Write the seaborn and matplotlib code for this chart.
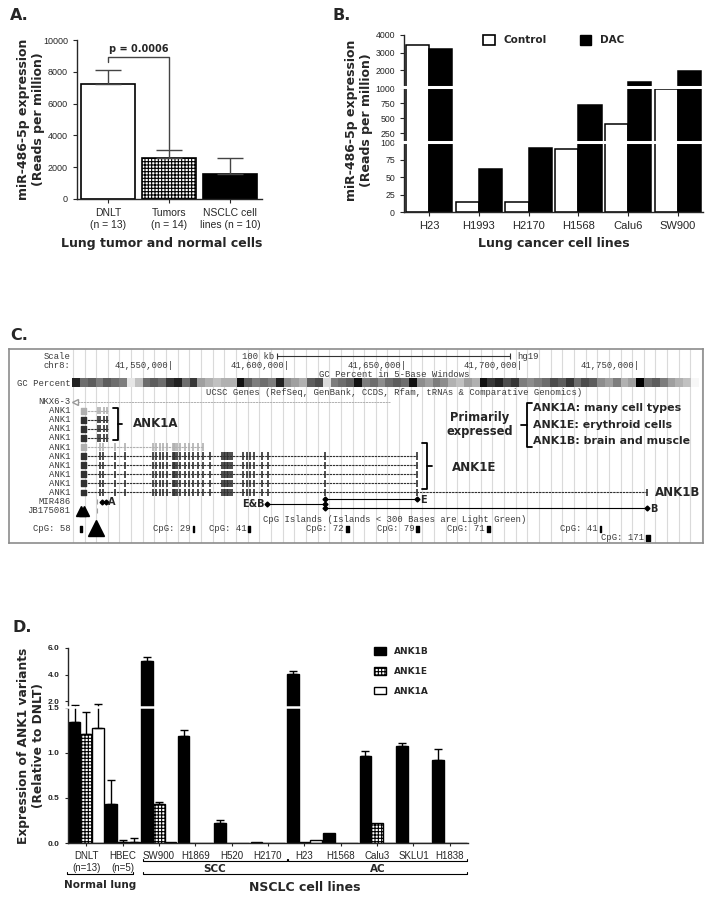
import numpy as np
import pandas as pd
import matplotlib
matplotlib.use("Agg")
import matplotlib.pyplot as plt
from matplotlib.patches import Patch
import seaborn as sns

# ---------------- panel A data
a_groups = ["DNLT\n(n = 13)", "Tumors\n(n = 14)", "NSCLC cell\nlines (n = 10)"]
a_mean = [7250, 2600, 1600]
a_upper = [8100, 3100, 2550]
a_pval = "p = 0.0006"

# ---------------- panel B data
b_lines = ["H23", "H1993", "H2170", "H1568", "Calu6", "SW900"]
b_control = [3430, 14, 15, 90, 400, 990]
b_dac = [3200, 62, 92, 720, 1340, 1950]
b_ticks = [0, 25, 50, 75, 100, 250, 500, 750, 1000, 2000, 3000, 4000]

# ---------------- panel C data (positions in kb on chr8, hg19)
chr_ticks = [41550, 41600, 41650, 41700, 41750]
gc_left = [0.75, 0.55, 0.6, 0.5, 0.6, 0.55, 0.5, 0.15, 0.3, 0.55, 0.6, 0.55, 0.7, 0.75,
           0.55, 0.7, 0.4, 0.35, 0.3, 0.35, 0.35, 0.8, 0.6, 0.5, 0.55, 0.5, 0.75, 0.45,
           0.4, 0.35, 0.6, 0.65, 0.2, 0.5, 0.55, 0.6, 0.8, 0.5, 0.55, 0.45]
gc_right = [0.55, 0.6, 0.55, 0.8, 0.45, 0.4, 0.5, 0.45, 0.35, 0.3, 0.4, 0.35, 0.8, 0.7,
            0.75, 0.65, 0.7, 0.5, 0.45, 0.5, 0.55, 0.65, 0.6, 0.7, 0.55, 0.65, 0.6, 0.45,
            0.4, 0.5, 0.35, 0.4, 0.9, 0.55, 0.6, 0.5, 0.4, 0.35, 0.3, 0.05]
ank1_start = 41511.0
ank1a_end = 41522.6
ank1a_exons = [41518.3, 41519.2, 41520.9, 41522.2]
ank1e_exons = [41519.2, 41520.4, 41525.6, 41529.9, 41541.9, 41543.2, 41544.9, 41546.2,
               41548.0, 41550.5, 41551.0, 41551.4, 41552.2, 41553.5, 41555.6, 41557.4,
               41559.1, 41561.2, 41563.4, 41566.4, 41571.5, 41572.3, 41572.8, 41573.6,
               41574.1, 41575.0, 41575.8, 41580.5, 41582.2, 41583.5, 41585.3, 41588.7,
               41591.3, 41615.7, 41655.2]
ank1_partial_end = 41563.4
ank1e_end = 41655.2
ank1b_end = 41753.9
nkx_span = [41508.4, 41643.6]
mir486_pos = 41517.9
jb_peaks = [41510.8, 41512.2]
cpg_pos = [41511.0, 41559.1, 41583.1, 41625.2, 41655.5, 41685.8, 41733.8, 41754.2]
cpg_count = [58, 29, 41, 72, 79, 71, 41, 171]
cpg_width = [0.8, 0.5, 0.5, 1.2, 1.2, 1.2, 0.4, 1.6]
cpg_row = [19, 19, 19, 19, 19, 19, 19, 20]
promoter_a = [41520.0, 41521.7]
promoter_eb = 41590.8
branch_pos = 41615.7

# ---------------- panel D data
d_lines = ["DNLT\n(n=13)", "HBEC\n(n=5)", "SW900", "H1869", "H520", "H2170",
           "H23", "H1568", "Calu3", "SKLU1", "H1838"]
d_variants = ["ANK1B", "ANK1E", "ANK1A"]
d_ank1b = [1.34, 0.43, 5.03, 1.19, 0.22, 0.01, 4.08, 0.11, 0.97, 1.08, 0.92]
d_ank1b_up = [1.75, 0.70, 5.36, 1.26, 0.25, 0.0, 4.25, 0.0, 1.02, 1.11, 1.04]
d_ank1e = [1.21, 0.01, 0.43, 0.0, 0.005, 0.0, 0.01, 0.0, 0.22, 0.0, 0.005]
d_ank1e_up = [1.45, 0.03, 0.46, 0.0, 0.0, 0.0, 0.0, 0.0, 0.0, 0.0, 0.0]
d_ank1a = [1.28, 0.01, 0.01, 0.0, 0.0, 0.0, 0.03, 0.0, 0.0, 0.0, 0.0]
d_ank1a_up = [1.78, 0.05, 0.0, 0.0, 0.0, 0.0, 0.0, 0.0, 0.0, 0.0, 0.0]
d_ticks = [0.0, 0.5, 1.0, 1.5, 2.0, 4.0, 6.0]

sns.set_style("ticks")
plt.rcParams["font.family"] = ["Liberation Sans Narrow", "Liberation Sans", "DejaVu Sans"]
plt.rcParams["hatch.linewidth"] = 0.8
plt.rcParams["axes.linewidth"] = 1.0
plt.rcParams["xtick.major.size"] = 3
plt.rcParams["ytick.major.size"] = 3

BOLD = dict(family="DejaVu Sans", weight="bold")
MONO = dict(family="Liberation Mono", size=6.4, color="#3a3a3a")
CHECK = "+++++"

W, H = 714, 901
fig = plt.figure(figsize=(W / 100, H / 100), dpi=100)


def rect(l, t, r, b):
    return [l / W, 1 - b / H, (r - l) / W, (b - t) / H]


def upper_err(ax, bars, mean, upper, color, cap):
    xs = np.array([p.get_x() + p.get_width() / 2 for p in bars])
    mean = np.array(mean, float)
    upper = np.array(upper, float)
    keep = upper > mean
    ax.errorbar(xs[keep], mean[keep], yerr=[np.zeros(keep.sum()), (upper - mean)[keep]],
                fmt="none", ecolor=color, elinewidth=1, capsize=cap, capthick=1)
    return xs


# ======================= A
ax_a = fig.add_axes(rect(77, 40, 262, 199))
df_a = pd.DataFrame({"group": a_groups, "value": a_mean})
sns.barplot(data=df_a, x="group", y="value", ax=ax_a, width=0.88, color="white",
            edgecolor="black", linewidth=1.2, errorbar=None, saturation=1)
bars_a = list(ax_a.patches)
bars_a[1].set_hatch(CHECK)
bars_a[2].set_facecolor("black")
xa = upper_err(ax_a, bars_a, a_mean, a_upper, "#444444", 9.5)
ax_a.plot([xa[0], xa[0], xa[1], xa[1]], [8640, 8930, 8930, a_upper[1] + 30],
          color="#444444", lw=1)
ax_a.text((xa[0] + xa[1]) / 2, 9150, a_pval, ha="center", va="bottom", fontsize=7, **BOLD)
ax_a.set_ylim(0, 10000)
ax_a.set_xlim(-0.51, 2.52)
ax_a.set_yticks(range(0, 10001, 2000))
ax_a.tick_params(axis="y", labelsize=6.5)
ax_a.tick_params(axis="x", labelsize=7.5)
ax_a.set_xlabel("Lung tumor and normal cells", fontsize=9, **BOLD)
ax_a.xaxis.set_label_coords(0.46, -0.24)
ax_a.set_ylabel("miR-486-5p expression\n(Reads per million)", fontsize=9, **BOLD)
ax_a.yaxis.set_label_coords(-0.175, 0.5)
sns.despine(ax=ax_a)

# ======================= B
def b_fwd(y):
    y = np.asarray(y, float)
    return np.where(y <= 100, y * 0.7,
                    np.where(y <= 1000, 70 + (y - 100) * 0.06, 124 + (y - 1000) * 0.017667))


def b_inv(u):
    u = np.asarray(u, float)
    return np.where(u <= 70, u / 0.7,
                    np.where(u <= 124, 100 + (u - 70) / 0.06, 1000 + (u - 124) / 0.017667))


ax_b = fig.add_axes(rect(404, 35, 703, 212))
df_b = pd.DataFrame({"line": b_lines * 2,
                     "cond": ["Control"] * 6 + ["DAC"] * 6,
                     "value": b_control + b_dac})
sns.barplot(data=df_b, x="line", y="value", hue="cond", ax=ax_b, width=0.93, gap=0,
            palette={"Control": "white", "DAC": "black"}, edgecolor="black",
            linewidth=1.1, errorbar=None, saturation=1, legend=False)
ax_b.set_yscale("function", functions=(b_fwd, b_inv))
ax_b.set_ylim(0, 4000)
ax_b.set_xlim(-0.5, 5.5)
ax_b.set_yticks(b_ticks)
ax_b.set_yticklabels([str(t) for t in b_ticks])
ax_b.yaxis.set_minor_locator(matplotlib.ticker.NullLocator())
for v in (103, 1040):
    ax_b.plot([-0.03, 1.0], [v, v], transform=ax_b.get_yaxis_transform(), color="white",
              lw=2.2, clip_on=False, zorder=6)
ax_b.tick_params(axis="y", labelsize=6.3)
ax_b.tick_params(axis="x", labelsize=8)
ax_b.set_xlabel("Lung cancer cell lines", fontsize=9, **BOLD)
ax_b.xaxis.set_label_coords(0.5, -0.14)
ax_b.set_ylabel("miR-486-5p expression\n(Reads per million)", fontsize=9, **BOLD)
ax_b.yaxis.set_label_coords(-0.104, 0.52)
sns.despine(ax=ax_b)
ax_b.legend(handles=[Patch(facecolor="white", edgecolor="black", lw=1.2),
                     Patch(facecolor="black", edgecolor="black")],
            labels=["Control", "DAC"], ncol=2, loc="center left",
            bbox_to_anchor=(474 / W, 1 - 40 / H), bbox_transform=fig.transFigure,
            frameon=False, columnspacing=3.2, handlelength=1.1, handleheight=1.2,
            handletextpad=0.8, prop=dict(size=7.5, **BOLD))

# ======================= C
ax_c = fig.add_axes(rect(9, 349, 703, 543))
x0, x1, y0, y1 = 41480.1, 41777.9, 20.55, -0.77
label_x = 41506.4
ax_c.vlines(np.arange(41507.5, 41778, 5.0), y1, y0, color="#dadada", lw=0.8, zorder=0)
gc = np.array([gc_left + gc_right])
ax_c.imshow(gc, extent=(41507.1, 41775.8, 3.45, 2.55), cmap="Greys", vmin=0, vmax=0.85,
            aspect="auto", interpolation="nearest", zorder=1)

track_labels = ["Scale", "chr8:", "", "GC Percent", "", "NKX6-3"] + ["ANK1"] * 10 + \
               ["MIR486", "JB175081", "", "CpG: 58"]
for r, t in enumerate(track_labels):
    if t:
        ax_c.text(label_x, r, t, ha="right", va="center", **MONO)

# scale and chromosome rows
ax_c.text(41594.0, 0, "100 kb", ha="right", va="center", **MONO)
ax_c.plot([41595, 41695], [0, 0], color="#333333", lw=0.8)
ax_c.vlines([41595, 41695], -0.35, 0.35, color="#333333", lw=0.8)
ax_c.text(41698, 0, "hg19", ha="left", va="center", **MONO)
for t in chr_ticks:
    ax_c.text(t + 0.6, 1, f"{t * 1000:,}|", ha="right", va="center", **MONO)
ax_c.text(41645.3, 2, "GC Percent in 5-Base Windows", ha="center", va="center", **MONO)
ax_c.text(41645.3, 4, "UCSC Genes (RefSeq, GenBank, CCDS, Rfam, tRNAs & Comparative Genomics)",
          ha="center", va="center", **MONO)
ax_c.text(41645.8, 18, "CpG Islands (Islands < 300 Bases are Light Green)",
          ha="center", va="center", **MONO)


def gene(row, end, exons, color):
    ax_c.plot([ank1_start, end], [row, row], color=color, lw=0.8, ls=(0, (2.2, 0.7)))
    ex = [e for e in exons if e <= end]
    ax_c.vlines(ex, row - 0.4, row + 0.4, color=color, lw=1.2)
    ax_c.broken_barh([(ank1_start, 2.3)], (row - 0.32, 0.64), color=color)


ax_c.plot(nkx_span, [5, 5], color="#b0b0b0", lw=0.7, ls=(0, (2.2, 0.7)))
ax_c.plot(nkx_span[0], 5, marker="<", mfc="white", mec="#999999", ms=5)
for r in range(6, 10):
    gene(r, ank1a_end, ank1a_exons, "#b0b0b0" if r == 6 else "#303030")
gene(10, ank1_partial_end, ank1e_exons, "#b0b0b0")
for r in range(11, 15):
    gene(r, ank1e_end, ank1e_exons, "#303030")
gene(15, ank1b_end, ank1e_exons + [ank1b_end], "#303030")

# small features
ax_c.vlines([mir486_pos, mir486_pos], [15.7, 16.7], [16.3, 17.3], color="#a0a0a0", lw=0.8)
ax_c.plot(jb_peaks, [17.05, 17.05], ls="none", marker="^", color="black", ms=7)
ax_c.plot(promoter_a, [16, 16], color="black", lw=1, marker="D", ms=2.5)
ax_c.text(promoter_a[1] + 0.8, 16, "A", ha="left", va="center", fontsize=7, **BOLD)
ax_c.text(promoter_eb - 1.2, 16.25, "E&B", ha="right", va="center", fontsize=7, **BOLD)
ax_c.plot([promoter_eb, branch_pos], [16.25, 16.25], color="black", lw=0.8)
ax_c.plot([promoter_eb], [16.25], marker="D", color="black", ms=2.5)
ax_c.plot([branch_pos] * 3, [15.75, 16.25, 16.75], color="black", lw=0.8, marker="D", ms=2.5)
ax_c.plot([branch_pos, ank1e_end], [15.75, 15.75], color="black", lw=0.8)
ax_c.plot([branch_pos, ank1b_end], [16.75, 16.75], color="black", lw=0.8)
ax_c.plot([ank1e_end, ank1b_end], [15.75, 16.75], ls="none", marker="D", color="black", ms=2.5)
ax_c.text(ank1e_end + 1.3, 15.85, "E", ha="left", va="center", fontsize=7, **BOLD)
ax_c.text(ank1b_end + 1.3, 16.85, "B", ha="left", va="center", fontsize=7, **BOLD)
ax_c.plot([41517.4], [18.9], marker="^", color="black", ms=11)

for i, (p, n, w, r) in enumerate(zip(cpg_pos, cpg_count, cpg_width, cpg_row)):
    ax_c.broken_barh([(p - w / 2, w)], (r - 0.35, 0.7), color="black")
    if i > 0:
        ax_c.text(p - w / 2 - 0.8, r, f"CpG: {n}", ha="right", va="center", **MONO)

# annotation brackets
def bracket(x, ytop, ybot, ymid, tip, arm):
    ax_c.plot([x + arm, x, x, x + arm], [ytop, ytop, ybot, ybot], color="black", lw=1.3)
    ax_c.plot([x, x + tip], [ymid, ymid], color="black", lw=1.3)


bracket(41526.9, 5.7, 9.2, 7.45, 1.7, -2.0)
ax_c.text(41533.3, 7.45, "ANK1A", ha="left", va="center", fontsize=8.5, **BOLD)
bracket(41659.5, 9.56, 14.6, 12.1, 2.1, -2.1)
ax_c.text(41670.2, 12.25, "ANK1E", ha="left", va="center", fontsize=8.5, **BOLD)
ax_c.text(41757.4, 15.0, "ANK1B", ha="left", va="center", fontsize=8.5, **BOLD)
bracket(41702.4, 5.15, 10.0, 7.58, -2.5, 2.2)
ax_c.text(41682.2, 7.5, "Primarily\nexpressed", ha="center", va="center", fontsize=8.3,
          linespacing=1.1, **BOLD)
for r, t in zip([5.71, 7.58, 9.34], ["ANK1A: many cell types", "ANK1E: erythroid cells",
                                      "ANK1B: brain and muscle"]):
    ax_c.text(41705.0, r, t, ha="left", va="center", fontsize=7.9, **BOLD)

ax_c.set_xlim(x0, x1)
ax_c.set_ylim(y0, y1)
ax_c.set_xticks([])
ax_c.set_yticks([])
for s in ax_c.spines.values():
    s.set_visible(True)
    s.set_color("#8c8c8c")
    s.set_linewidth(1.2)

# ======================= D
def d_fwd(y):
    y = np.asarray(y, float)
    return np.where(y <= 1.5, y * 90, 135 + (y - 1.5) * 13.3)


def d_inv(u):
    u = np.asarray(u, float)
    return np.where(u <= 135, u / 90, 1.5 + (u - 135) / 13.3)


ax_d = fig.add_axes(rect(68, 648, 468, 843))
df_d = pd.DataFrame({"line": d_lines * 3,
                     "variant": np.repeat(d_variants, len(d_lines)),
                     "value": d_ank1b + d_ank1e + d_ank1a})
sns.barplot(data=df_d, x="line", y="value", hue="variant", hue_order=d_variants, ax=ax_d,
            width=0.96, gap=0, palette={"ANK1B": "black", "ANK1E": "white", "ANK1A": "white"},
            edgecolor="black", linewidth=1.0, errorbar=None, saturation=1, legend=False)
for p in ax_d.containers[1]:
    p.set_hatch(CHECK)
ax_d.set_yscale("function", functions=(d_fwd, d_inv))
ax_d.set_ylim(0, 6.0)
ax_d.set_xlim(-0.5, 10.5)
for cont, m, u in zip(ax_d.containers, [d_ank1b, d_ank1e, d_ank1a],
                      [d_ank1b_up, d_ank1e_up, d_ank1a_up]):
    upper_err(ax_d, list(cont), m, u, "black", 3.2)
ax_d.set_yticks(d_ticks)
ax_d.set_yticklabels([f"{t:.1f}" for t in d_ticks])
ax_d.yaxis.set_minor_locator(matplotlib.ticker.NullLocator())
ax_d.plot([-0.02, 1.0], [1.56, 1.56], transform=ax_d.get_yaxis_transform(), color="white",
          lw=1.8, clip_on=False, zorder=6)
ax_d.tick_params(axis="y", labelsize=6, length=2.5)
ax_d.tick_params(axis="x", labelsize=7, length=2.5)
for lab in ax_d.get_yticklabels():
    lab.set_fontweight("bold")
ax_d.set_xlabel("")
ax_d.set_ylabel("Expression of ANK1 variants\n(Relative to DNLT)", fontsize=8.8, **BOLD)
ax_d.yaxis.set_label_coords(-0.058, 0.5)
sns.despine(ax=ax_d)

trans_d = ax_d.get_xaxis_transform()


def group_bracket(xa_, xb_, y, text, ty, size):
    ax_d.plot([xa_, xa_, xb_, xb_], [y + 0.012, y, y, y + 0.012], color="black", lw=0.8,
              transform=trans_d, clip_on=False)
    ax_d.text((xa_ + xb_) / 2, ty, text, ha="center", va="center", fontsize=size,
              transform=trans_d, **BOLD)


group_bracket(1.55, 5.52, -0.092, "SCC", -0.133, 7.5)
group_bracket(5.55, 10.46, -0.092, "AC", -0.133, 7.5)
group_bracket(-0.53, 1.29, -0.159, "Normal lung", -0.215, 7.5)
group_bracket(1.55, 10.46, -0.159, "NSCLC cell lines", -0.226, 9)

ax_d.legend(handles=[Patch(facecolor="black", edgecolor="black"),
                     Patch(facecolor="white", edgecolor="black", hatch=CHECK),
                     Patch(facecolor="white", edgecolor="black")],
            labels=d_variants, loc="upper left", bbox_to_anchor=(366 / W, 1 - 639 / H),
            bbox_transform=fig.transFigure, frameon=False, handlelength=1.3,
            handleheight=0.9, labelspacing=1.2, handletextpad=0.9,
            prop=dict(size=6.5, **BOLD))

# panel letters
for x, y, t in [(10, 15, "A."), (333, 15, "B."), (10, 335, "C."), (12, 628, "D.")]:
    fig.text(x / W, 1 - y / H, t, ha="left", va="center", fontsize=11.5, **BOLD)

fig.savefig("out.png", dpi=100)
